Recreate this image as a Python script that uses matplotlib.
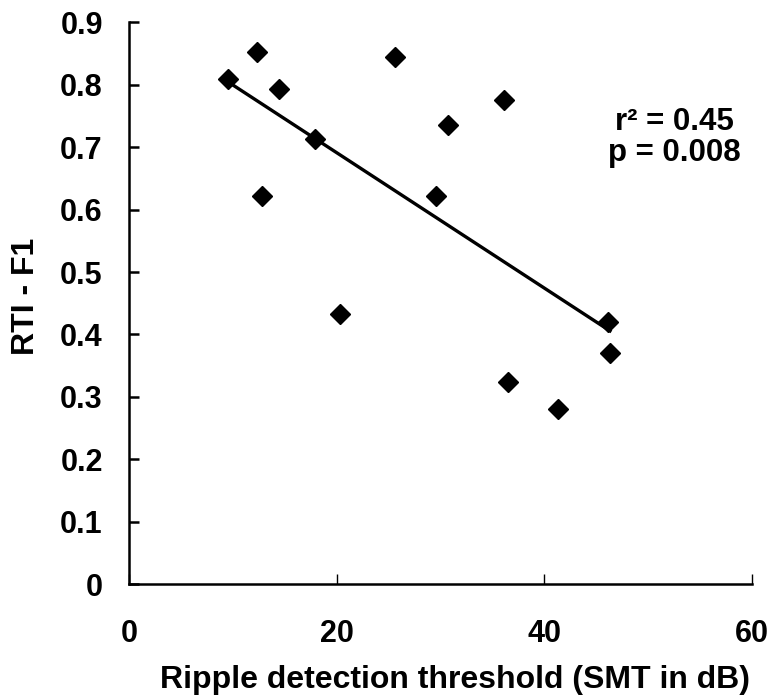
import numpy as np
import matplotlib.pyplot as plt

plt.rcParams['font.family'] = ['Liberation Sans', 'DejaVu Sans']
plt.rcParams['font.weight'] = 'bold'

# SMT threshold (dB) vs RTI-F1
smt_db = [9.55, 12.28, 14.47, 17.9, 12.8, 25.6, 20.3, 29.6, 30.76, 36.16, 46.2, 46.35, 36.55, 41.3]
rti_f1 = [0.809, 0.853, 0.794, 0.713, 0.622, 0.844, 0.433, 0.621, 0.736, 0.776, 0.420, 0.370, 0.324, 0.280]
x_ticks = [0, 20, 40, 60]
y_ticks = [0, 0.1, 0.2, 0.3, 0.4, 0.5, 0.6, 0.7, 0.8, 0.9]
y_labels = ['0', '0.1', '0.2', '0.3', '0.4', '0.5', '0.6', '0.7', '0.8', '0.9']

x = np.array(smt_db)
y = np.array(rti_f1)
slope, intercept = np.polyfit(x, y, 1)
xx = np.array([x.min(), x.max()])

fig = plt.figure(figsize=(7.74, 7.0), dpi=100)
ax = fig.add_axes([0.167, 0.1657, 0.804, 0.8023])

ax.plot(xx, slope * xx + intercept, color='black', lw=2.4, zorder=2)
ax.plot(x, y, 'D', color='black', ms=10, zorder=3, clip_on=False)

ax.text(52.6, 0.716, 'r² = 0.45\np = 0.008', ha='center', va='center',
        multialignment='center', fontsize=22.5, fontweight='bold', linespacing=1.05)

ax.set_xlim(0, 60)
ax.set_ylim(0, 0.9)
ax.set_xticks(x_ticks)
ax.set_yticks(y_ticks)
ax.set_yticklabels(y_labels)

for s in ['top', 'right']:
    ax.spines[s].set_visible(False)
for s in ['left', 'bottom']:
    ax.spines[s].set_linewidth(1.8)

ax.tick_params(axis='y', direction='in', length=7, width=1.8, pad=19, labelsize=22)
ax.tick_params(axis='x', direction='in', length=7, width=1.0, pad=25, labelsize=22)

ax.set_xlabel('Ripple detection threshold (SMT in dB)', fontsize=23, fontweight='bold',
              labelpad=12, x=0.523)
ax.set_ylabel('RTI - F1', fontsize=23, fontweight='bold', labelpad=14, y=0.513)

fig.savefig('out.png', dpi=100)
